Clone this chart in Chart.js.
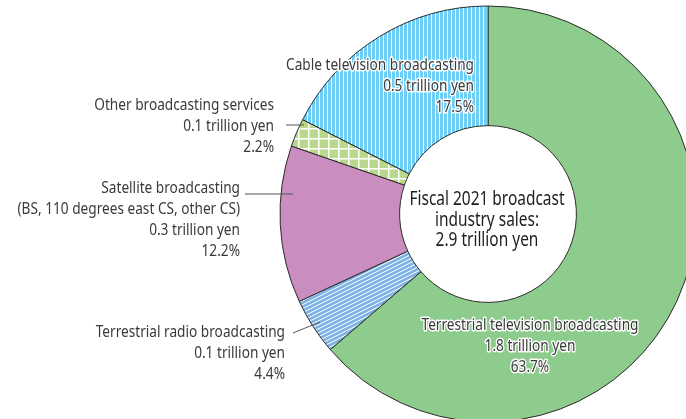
<!DOCTYPE html>
<html>
<head>
<meta charset="utf-8">
<script src="https://cdn.jsdelivr.net/npm/chart.js@4.4.1/dist/chart.umd.min.js"></script>
<style>
  html, body { margin: 0; padding: 0; background: #ffffff; overflow: hidden; }
  #c { display: block; }
</style>
</head>
<body>
<canvas id="c" width="686" height="419"></canvas>
<script>
// ---- Data ----
const categories = [
  'Terrestrial television broadcasting',
  'Terrestrial radio broadcasting',
  'Satellite broadcasting',
  'Other broadcasting services',
  'Cable television broadcasting'
];
const nameLines = [
  ['Terrestrial television broadcasting'],
  ['Terrestrial radio broadcasting'],
  ['Satellite broadcasting', '(BS, 110 degrees east CS, other CS)'],
  ['Other broadcasting services'],
  ['Cable television broadcasting']
];
const salesTrillionYen = ['1.8', '0.1', '0.3', '0.1', '0.5'];
const sharePercent = [63.7, 4.4, 12.2, 2.2, 17.5];
const centerLines = ['Fiscal 2021 broadcast', 'industry sales:', '2.9 trillion yen'];

// ---- Patterns ----
function makePattern(w, h, bg, drawFn) {
  const p = document.createElement('canvas');
  p.width = w; p.height = h;
  const g = p.getContext('2d');
  g.fillStyle = bg; g.fillRect(0, 0, w, h);
  drawFn(g, w, h);
  return document.getElementById('c').getContext('2d').createPattern(p, 'repeat');
}
const cablePattern = makePattern(4, 4, '#6dcff6', (g) => {
  g.fillStyle = '#ffffff'; g.fillRect(3, 0, 1, 4);
});
const otherPattern = makePattern(10, 10, '#b8d98c', (g) => {
  g.fillStyle = '#ffffff'; g.fillRect(8, 0, 1.5, 10); g.fillRect(0, 8, 10, 1.5);
});
const radioPattern = makePattern(8, 4, '#7cb2e4', (g) => {
  g.strokeStyle = '#ffffff'; g.lineWidth = 1;
  for (let k = -2; k <= 2; k++) {
    g.beginPath(); g.moveTo(-8, 4 + 4 * k + 4); g.lineTo(16, 4 * k - 8 + 4); g.stroke();
  }
});
const sliceColors = ['#8dcc8c', radioPattern, '#c98dc0', otherPattern, cablePattern];

// ---- Label layout ----
const FONT = '"Noto Sans", sans-serif';
const labelSpec = [
  { align: 'center', x: 530, y: 325, halo: true },
  { align: 'right', x: 285, y: 332, halo: false, leader: [[293, 333], [320, 322]] },
  { align: 'right', x: 240, y: 188, halo: false, leader: [[245, 194], [293, 194]] },
  { align: 'right', x: 274, y: 105, halo: false, leader: [[286, 125], [304, 125]] },
  { align: 'right', x: 474, y: 65, halo: true }
];
const LINE_H = 21.3;

const labelsPlugin = {
  id: 'labels',
  afterDraw(chart) {
    const ctx = chart.ctx;
    ctx.save();
    // leader lines
    ctx.strokeStyle = '#555555'; ctx.lineWidth = 1;
    labelSpec.forEach(s => {
      if (!s.leader) return;
      ctx.beginPath(); ctx.moveTo(s.leader[0][0], s.leader[0][1]); ctx.lineTo(s.leader[1][0], s.leader[1][1]); ctx.stroke();
    });
    ctx.font = '16px ' + FONT;
    const sx = 188 / ctx.measureText('Cable television broadcasting').width;
    ctx.textBaseline = 'middle';
    labelSpec.forEach((s, i) => {
      const lines = nameLines[i].concat([salesTrillionYen[i] + ' trillion yen', sharePercent[i].toFixed(1) + '%']);
      ctx.textAlign = s.align;
      lines.forEach((t, j) => {
        const y = s.y + j * LINE_H;
        const mw = ctx.measureText(t).width * sx;
        if (s.halo) {
          ctx.strokeStyle = '#ffffff'; ctx.lineWidth = 3; ctx.lineJoin = 'round';
          ctx.strokeText(t, s.x, y, mw);
        }
        ctx.fillStyle = '#3a3a3a';
        ctx.fillText(t, s.x, y, mw);
      });
    });
    // center text
    ctx.font = '19px ' + FONT;
    const cx = 155 / ctx.measureText(centerLines[0]).width;
    ctx.textAlign = 'center';
    ctx.fillStyle = '#1e1e1e';
    centerLines.forEach((t, j) => {
      ctx.fillText(t, 487, 200 + j * 20.5, ctx.measureText(t).width * cx);
    });
    ctx.restore();
  }
};

new Chart(document.getElementById('c'), {
  type: 'doughnut',
  data: {
    labels: categories,
    datasets: [{
      data: sharePercent,
      backgroundColor: sliceColors,
      borderColor: '#2b2b2b',
      borderWidth: 1,
      clip: false
    }]
  },
  options: {
    responsive: false,
    animation: false,
    devicePixelRatio: 1,
    radius: 208,
    cutout: '42.5%',
    layout: { padding: { left: 290, top: 9, right: 0, bottom: 0 } },
    plugins: { legend: { display: false }, tooltip: { enabled: false } },
    events: []
  },
  plugins: [labelsPlugin]
});
</script>
</body>
</html>
